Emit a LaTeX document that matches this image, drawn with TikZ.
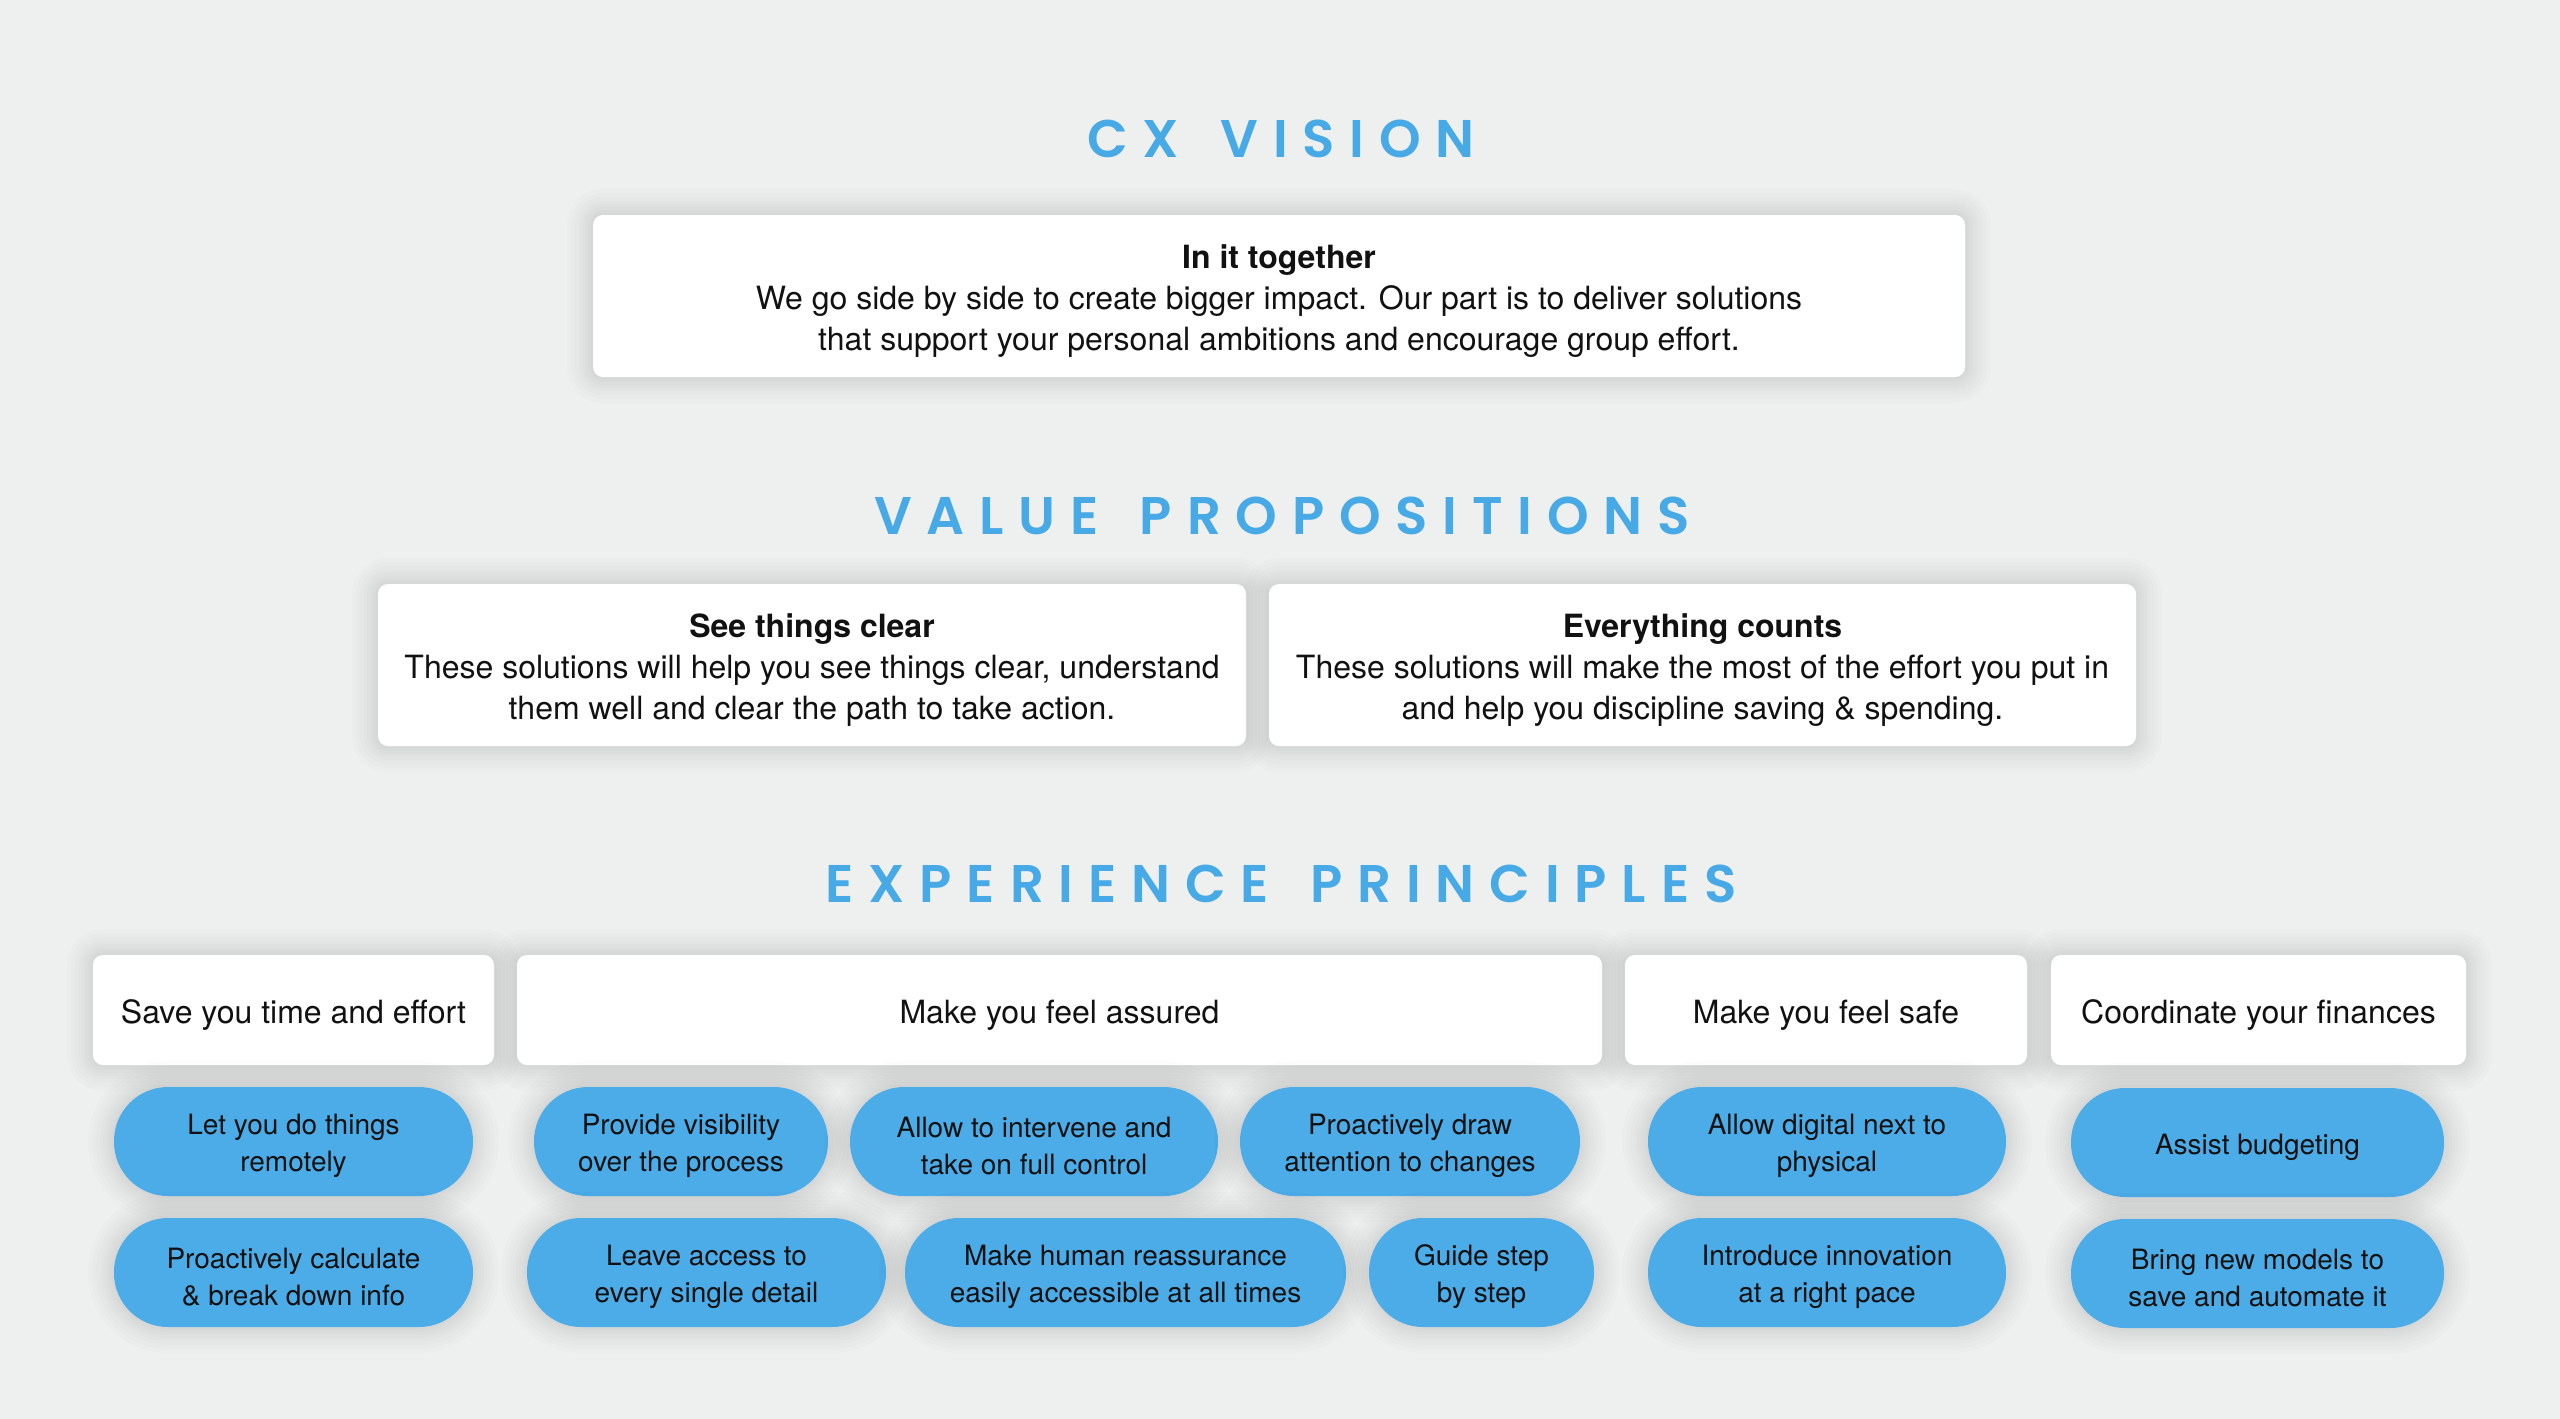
\documentclass[tikz,border=0pt]{standalone}
\usepackage{fontspec}
\setmainfont{TeX Gyre Heros}
\newfontfamily\titlefont[LetterSpace=28, BoldFont={Poppins SemiBold}]{Poppins}
\definecolor{bgc}{HTML}{EEF0EF}
\definecolor{pillc}{HTML}{4BACE8}
\definecolor{titlec}{HTML}{47A9E6}
\definecolor{txtc}{HTML}{111111}
\newcommand{\wgap}{\hspace{7pt}}
\newcommand{\fl}{\rule{0pt}{1.05em}}
\tikzset{
  shl/.style={preaction={draw=black, draw opacity=0.011, line width=#1, fill=none}},
  softshadow/.style={shl=26pt, shl=22pt, shl=18pt, shl=14pt, shl=11pt, shl=8pt, shl=5pt, shl=2.5pt},
  card/.style={softshadow, fill=white, rounded corners=5pt, inner sep=0pt, align=center, text=txtc, font=\fontsize{16}{20.5}\selectfont},
  pill/.style={softshadow, fill=pillc, rounded corners=27pt, minimum height=54.5pt, inner sep=0pt, align=center, text=txtc, font=\fontsize{14}{18.5}\selectfont},
  sectitle/.style={anchor=base, inner sep=0pt, text=titlec, font=\titlefont\bfseries\fontsize{26.5}{30}\selectfont}
}
\begin{document}
\begin{tikzpicture}[x=0.5pt,y=-0.5pt]
\fill[bgc] (0,0) rectangle (2560,1419);
\useasboundingbox (0,0) rectangle (2560,1419);

% section titles
\node[sectitle] (t1) at (1281,157) {CX \wgap VISION};
\node[sectitle] (t2) at (1282,534) {VALUE \wgap PROPOSITIONS};
\node[sectitle] (t3) at (1281,902) {EXPERIENCE \wgap PRINCIPLES};

% CX vision card
\node[card, minimum width=686pt, minimum height=81pt] (vision) at (1279,296)
  {\fl\textbf{In it together}\\We go side by side to create bigger impact. Our part is to deliver solutions\\that support your personal ambitions and encourage group effort.};

% value propositions
\node[card, minimum width=434pt, minimum height=81pt] (vp1) at (812,665)
  {\fl\textbf{See things clear}\\These solutions will help you see things clear, understand\\them well and clear the path to take action.};
\node[card, minimum width=433.5pt, minimum height=81pt] (vp2) at (1702.5,665)
  {\fl\textbf{Everything counts}\\These solutions will make the most of the effort you put in\\and help you discipline saving \& spending.};

% experience principle headers
\node[card, minimum width=200.5pt, minimum height=55pt] (h1) at (293.5,1010) {\fl Save you time and effort};
\node[card, minimum width=542.5pt, minimum height=55pt] (h2) at (1059.5,1010) {\fl Make you feel assured};
\node[card, minimum width=201pt, minimum height=55pt] (h3) at (1826,1010) {\fl Make you feel safe};
\node[card, minimum width=207.5pt, minimum height=55pt] (h4) at (2258.5,1010) {\fl Coordinate your finances};

% pills
\node[pill, minimum width=179.5pt] (p1a) at (293.5,1141.5) {\fl Let you do things\\remotely};
\node[pill, minimum width=179.5pt] (p1b) at (293.5,1272.5) {\fl Proactively calculate\\\& break down info};

\node[pill, minimum width=147pt] (p2a) at (681,1141.5) {\fl Provide visibility\\over the process};
\node[pill, minimum width=184pt] (p2b) at (1034,1141.5) {\fl Allow to intervene and\\take on full control};
\node[pill, minimum width=170pt] (p2c) at (1410,1141.5) {\fl Proactively draw\\attention to changes};
\node[pill, minimum width=179.5pt] (p2d) at (706.5,1272.5) {\fl Leave access to\\every single detail};
\node[pill, minimum width=220.5pt] (p2e) at (1125.5,1272.5) {\fl Make human reassurance\\easily accessible at all times};
\node[pill, minimum width=112.5pt] (p2f) at (1481.5,1272.5) {\fl Guide step\\by step};

\node[pill, minimum width=179pt] (p3a) at (1827,1141.5) {\fl Allow digital next to\\physical};
\node[pill, minimum width=179pt] (p3b) at (1827,1272.5) {\fl Introduce innovation\\at a right pace};

\node[pill, minimum width=186.5pt] (p4a) at (2257.5,1142.5) {\fl Assist budgeting};
\node[pill, minimum width=186.5pt] (p4b) at (2257.5,1273.5) {\fl Bring new models to\\save and automate it};
\end{tikzpicture}
\end{document}
